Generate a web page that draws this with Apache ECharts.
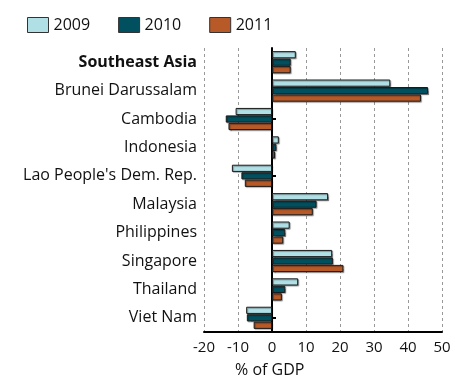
<!DOCTYPE html>
<html>
<head>
<meta charset="utf-8">
<script src="https://cdn.jsdelivr.net/npm/echarts@6/dist/echarts.min.js"></script>
<style>
html, body { margin: 0; padding: 0; background: #fff; }
#main { width: 455px; height: 378px; }
</style>
</head>
<body>
<div id="main"></div>
<script>
// countries, top to bottom
const countries = ['Southeast Asia', 'Brunei Darussalam', 'Cambodia', 'Indonesia',
  "Lao People's Dem. Rep.", 'Malaysia', 'Philippines', 'Singapore', 'Thailand', 'Viet Nam']
const years = ['2009', '2010', '2011']
// % of GDP
const v2009 = [7.0, 34.8, -10.7, 2.0, -11.8, 16.5, 5.2, 17.7, 7.7, -7.6]
const v2010 = [5.5, 45.9, -13.6, 1.3, -9.0, 13.1, 3.9, 17.9, 3.9, -7.4]
const v2011 = [5.5, 43.8, -12.8, 0.9, -8.0, 12.0, 3.3, 21.0, 2.9, -5.4]
const xTicks = [-20, 50, 10]  // min, max, step

const colors = ['#b0e0e6', '#00505f', '#b85a28']
const font = 'Open Sans'

let chart = echarts.init(document.getElementById('main'))

function barSeries (name, data, i) {
  return {
    name: name,
    type: 'bar',
    yAxisIndex: 0,
    data: data,
    barGap: '4%',
    barCategoryGap: '22%',
    itemStyle: {
      color: colors[i],
      borderColor: '#1a1a1a',
      borderWidth: 1,
      shadowColor: 'rgba(0,0,0,0.35)',
      shadowOffsetX: 1,
      shadowOffsetY: 1,
      shadowBlur: 1
    }
  }
}

chart.setOption({
  animation: false,
  textStyle: { fontFamily: font },
  title: {
    text: '% of GDP',
    left: 230,
    top: 357,
    textStyle: { fontFamily: font, fontSize: 16, fontWeight: 'normal', color: '#111' }
  },
  legend: {
    left: 22,
    top: 12,
    icon: 'rect',
    itemWidth: 21,
    itemHeight: 15,
    itemGap: 28,
    data: years,
    textStyle: { fontFamily: font, fontSize: 16, color: '#111' },
    itemStyle: { borderColor: '#333', borderWidth: 1, shadowBlur: 0, shadowOffsetX: 0, shadowOffsetY: 0 }
  },
  grid: { left: 204, right: 13, top: 48, bottom: 46, containLabel: false },
  xAxis: {
    type: 'value',
    min: xTicks[0],
    max: xTicks[1],
    interval: xTicks[2],
    axisLine: { show: true, onZero: false, lineStyle: { color: '#000', width: 2 } },
    axisTick: { show: false },
    axisLabel: { fontFamily: font, fontSize: 15, color: '#111', margin: 8 },
    splitLine: { show: true, lineStyle: { color: '#999', type: [3, 3], width: 1 } }
  },
  yAxis: [
    {
      type: 'category',
      inverse: true,
      data: countries,
      axisLine: { show: false, onZero: false },
      axisTick: { show: false },
      axisLabel: {
        fontFamily: font,
        fontSize: 16,
        color: '#111',
        margin: 7,
        formatter: function (v, idx) {
          return idx === 0 ? '{b|' + v + '}' : v
        },
        rich: { b: { fontFamily: font, fontSize: 16, fontWeight: 'bold', color: '#111' } }
      }
    },
    {
      type: 'category',
      inverse: true,
      data: countries,
      position: 'left',
      axisLine: { show: true, onZero: true, lineStyle: { color: '#000', width: 2 } },
      axisTick: { show: true, inside: true, alignWithLabel: true, length: 4, lineStyle: { color: '#000', width: 2 } },
      axisLabel: { show: false }
    }
  ],
  series: [
    barSeries(years[0], v2009, 0),
    barSeries(years[1], v2010, 1),
    barSeries(years[2], v2011, 2)
  ]
})
</script>
</body>
</html>
